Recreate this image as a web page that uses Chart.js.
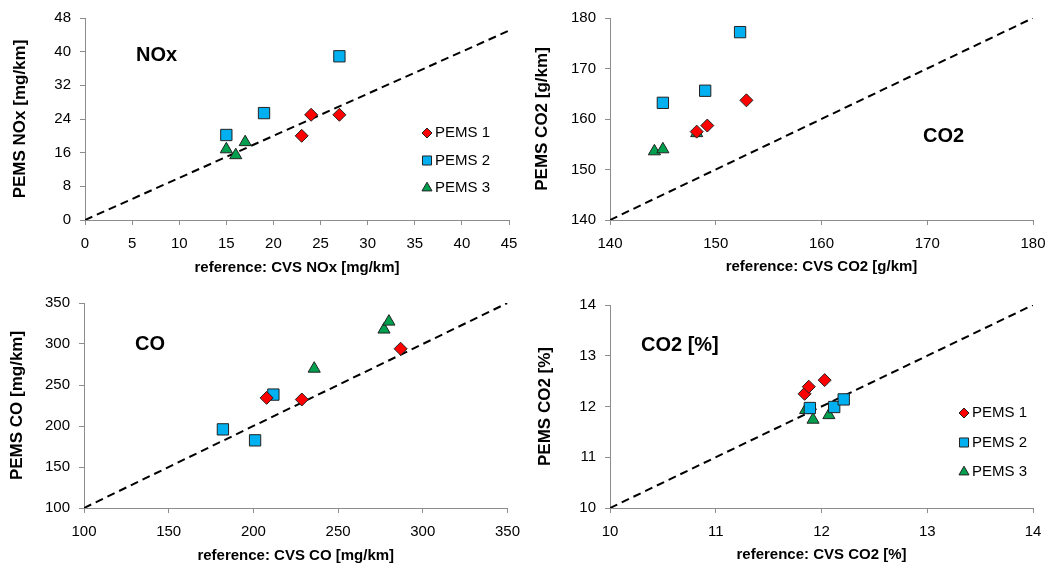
<!DOCTYPE html>
<html>
<head>
<meta charset="utf-8">
<script src="https://cdn.jsdelivr.net/npm/chart.js@4.4.0/dist/chart.umd.min.js"></script>
<style>
  body { margin: 0; background: #fff; }
  #wrap { position: relative; width: 1059px; height: 567px; }
  .panel { position: absolute; }
</style>
</head>
<body>
<div id="wrap">
  <div class="panel" style="left:0;top:0"><canvas id="cNox" width="530" height="285"></canvas></div>
  <div class="panel" style="left:530px;top:0"><canvas id="cCo2" width="529" height="285"></canvas></div>
  <div class="panel" style="left:0;top:285px"><canvas id="cCo" width="530" height="282"></canvas></div>
  <div class="panel" style="left:530px;top:285px"><canvas id="cPct" width="529" height="282"></canvas></div>
</div>
<script>
// Séries
const seriesNames = ['PEMS 1', 'PEMS 2', 'PEMS 3'];

// NOx [mg/km]
const noxP1x = [23, 24, 27];
const noxP1y = [20, 25, 25];
const noxP2x = [15, 19, 27];
const noxP2y = [20.2, 25.4, 38.9];
const noxP3x = [15, 16, 17];
const noxP3y = [16.8, 15.4, 18.5];

// CO2 [g/km]
const co2P1x = [148.2, 149.2, 152.9];
const co2P1y = [157.5, 158.7, 163.7];
const co2P2x = [145.0, 149.0, 152.3];
const co2P2y = [163.2, 165.6, 177.2];
const co2P3x = [144.2, 145.0, 148.2];
const co2P3y = [153.6, 154.0, 157.2];

// CO [mg/km]
const coP1x = [207.8, 228.6, 286.9];
const coP1y = [234.3, 232.3, 294.2];
const coP2x = [182.0, 201.0, 211.8];
const coP2y = [195.9, 182.5, 238.3];
const coP3x = [235.9, 277.1, 280.0];
const coP3y = [269.9, 317.6, 327.3];

// CO2 [%]
const pctP1x = [11.84, 11.88, 12.03];
const pctP1y = [12.25, 12.39, 12.52];
const pctP2x = [11.89, 12.12, 12.21];
const pctP2y = [11.97, 11.99, 12.14];
const pctP3x = [11.85, 11.92, 12.07];
const pctP3y = [11.93, 11.74, 11.83];

// Eixos: [min, max, passo]
const noxXAxis = [0, 45, 5];
const noxYAxis = [0, 48, 8];
const co2XAxis = [140, 180, 10];
const co2YAxis = [140, 180, 10];
const coXAxis = [100, 350, 50];
const coYAxis = [100, 350, 50];
const pctXAxis = [10, 14, 1];
const pctYAxis = [10, 14, 1];

// Estilo dos marcadores
const seriesColors = ['#ff0000', '#00b0f0', '#00a04f'];
const seriesStyles = ['rectRot', 'rect', 'triangle'];
const seriesRadius = [6.5, 8, 7];
const legendRadius = [5, 6.4, 5.8];

const FONT = '"Liberation Sans", Arial, sans-serif';
Chart.defaults.font.family = FONT;

function pts(xs, ys) {
  return xs.map((x, i) => ({ x: x, y: ys[i] }));
}

// Título interno e legenda desenhados sobre a área do gráfico
const panelDecor = {
  id: 'panelDecor',
  afterDatasetsDraw(chart, args, opts) {
    const ctx = chart.ctx;
    ctx.save();
    ctx.fillStyle = '#000';
    ctx.font = 'bold 20px ' + FONT;
    ctx.textBaseline = 'middle';
    ctx.textAlign = 'left';
    ctx.fillText(opts.label, opts.labelX, opts.labelY);
    if (opts.legend) {
      const lg = opts.legend;
      chart.data.datasets.forEach((ds, i) => {
        if (ds.type === 'line') return;
        const y = lg.y + i * lg.gap;
        ctx.fillStyle = ds.backgroundColor;
        ctx.strokeStyle = ds.borderColor;
        ctx.lineWidth = 1;
        Chart.helpers.drawPoint(ctx, { pointStyle: ds.pointStyle, radius: legendRadius[i], borderWidth: 1, rotation: 0 }, lg.x, y);
        ctx.fillStyle = '#000';
        ctx.font = '15px ' + FONT;
        ctx.fillText(ds.label, lg.x + 8, y);
      });
    }
    ctx.restore();
  }
};

function makePanel(id, p) {
  const datasets = p.series.map((s, i) => ({
    label: seriesNames[i],
    data: pts(s[0], s[1]),
    pointStyle: seriesStyles[i],
    pointRadius: seriesRadius[i],
    pointHoverRadius: seriesRadius[i],
    backgroundColor: seriesColors[i],
    borderColor: '#222',
    borderWidth: 1,
    order: 1
  }));
  // linha 1:1
  datasets.push({
    type: 'line',
    data: [{ x: p.xAxis[0], y: p.xAxis[0] }, { x: p.xAxis[1], y: p.xAxis[1] }],
    borderColor: '#000',
    borderWidth: 2,
    borderDash: [8, 5],
    pointRadius: 0,
    fill: false,
    order: 10
  });

  const axisColor = '#8c8c8c';
  new Chart(document.getElementById(id), {
    type: 'scatter',
    data: { datasets: datasets },
    plugins: [panelDecor],
    options: {
      responsive: false,
      animation: false,
      layout: { padding: { left: 0, top: p.area.t, right: p.w - p.area.r, bottom: 0 } },
      plugins: {
        legend: { display: false },
        tooltip: { enabled: false },
        panelDecor: { label: p.label, labelX: p.labelX, labelY: p.labelY, legend: p.legend }
      },
      scales: {
        x: {
          type: 'linear',
          min: p.xAxis[0], max: p.xAxis[1],
          ticks: { stepSize: p.xAxis[2], color: '#000', font: { size: 15 }, padding: 10, maxRotation: 0 },
          grid: { drawOnChartArea: false, tickLength: 5, color: axisColor },
          border: { color: axisColor },
          title: { display: true, text: p.xTitle, color: '#000', font: { size: 15, weight: 'bold' }, padding: { top: 0, bottom: p.xTitlePad } },
          afterFit: s => { s.height = p.h - p.area.b; }
        },
        y: {
          type: 'linear',
          min: p.yAxis[0], max: p.yAxis[1],
          ticks: { stepSize: p.yAxis[2], color: '#000', font: { size: 15 }, padding: 9 },
          grid: { drawOnChartArea: false, tickLength: 5, color: axisColor },
          border: { color: axisColor },
          title: { display: true, text: p.yTitle, color: '#000', font: { size: 17, weight: 'bold' }, padding: { top: p.yTitlePad, bottom: 0 } },
          afterFit: s => { s.width = p.area.l; }
        }
      }
    }
  });
}

makePanel('cNox', {
  w: 530, h: 285, area: { l: 85, r: 509, t: 17, b: 220 },
  xAxis: noxXAxis, yAxis: noxYAxis,
  series: [[noxP1x, noxP1y], [noxP2x, noxP2y], [noxP3x, noxP3y]],
  xTitle: 'reference: CVS NOx [mg/km]', yTitle: 'PEMS NOx [mg/km]',
  xTitlePad: 8, yTitlePad: 10,
  label: 'NOx', labelX: 136, labelY: 55,
  legend: { x: 427, y: 133, gap: 27.5 }
});

makePanel('cCo2', {
  w: 529, h: 285, area: { l: 80, r: 503, t: 13, b: 220 },
  xAxis: co2XAxis, yAxis: co2YAxis,
  series: [[co2P1x, co2P1y], [co2P2x, co2P2y], [co2P3x, co2P3y]],
  xTitle: 'reference: CVS CO2 [g/km]', yTitle: 'PEMS CO2 [g/km]',
  xTitlePad: 9, yTitlePad: 2,
  label: 'CO2', labelX: 393, labelY: 136
});

makePanel('cCo', {
  w: 530, h: 282, area: { l: 84, r: 509, t: 17, b: 223 },
  xAxis: coXAxis, yAxis: coYAxis,
  series: [[coP1x, coP1y], [coP2x, coP2y], [coP3x, coP3y]],
  xTitle: 'reference: CVS CO [mg/km]', yTitle: 'PEMS CO [mg/km]',
  xTitlePad: 2, yTitlePad: 7,
  label: 'CO', labelX: 135, labelY: 59
});

makePanel('cPct', {
  w: 529, h: 282, area: { l: 80, r: 503, t: 20, b: 223 },
  xAxis: pctXAxis, yAxis: pctYAxis,
  series: [[pctP1x, pctP1y], [pctP2x, pctP2y], [pctP3x, pctP3y]],
  xTitle: 'reference: CVS CO2 [%]', yTitle: 'PEMS CO2 [%]',
  xTitlePad: 3, yTitlePad: 5,
  label: 'CO2 [%]', labelX: 111, labelY: 60,
  legend: { x: 434, y: 128, gap: 29.5 }
});
</script>
</body>
</html>
